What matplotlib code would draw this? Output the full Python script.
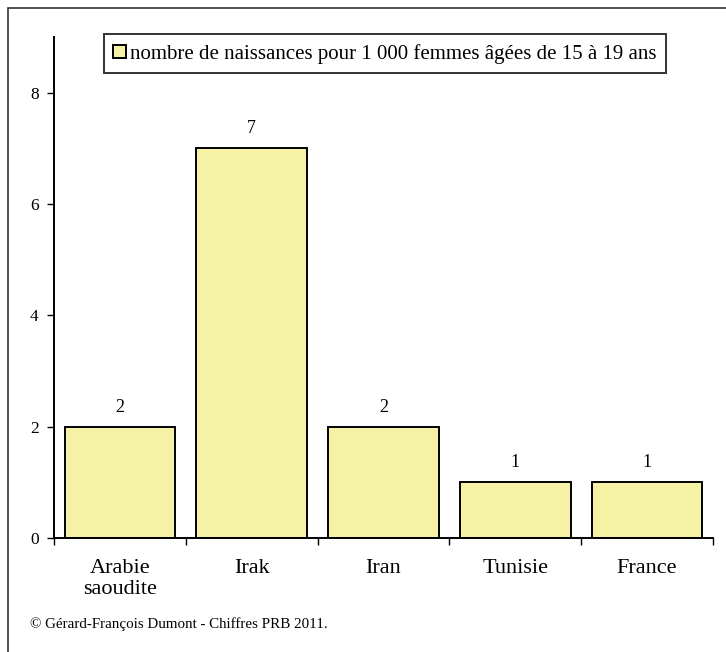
import matplotlib.pyplot as plt
from matplotlib.patches import Rectangle
import numpy as np

plt.rcParams["font.family"] = ["Liberation Serif", "DejaVu Serif"]

countries = ["Arabie\nsaoudite", "Irak", "Iran", "Tunisie", "France"]
births = [2, 7, 2, 1, 1]
y_ticks = [0, 2, 4, 6, 8]
series_label = "nombre de naissances pour 1 000 femmes âgées de 15 à 19 ans"
source = "© Gérard-François Dumont - Chiffres PRB 2011."

BAR_COLOR = "#F5F2A6"

fig = plt.figure(figsize=(7.26, 6.52), dpi=100)
fig.patches.append(Rectangle((8 / 726, -0.01), 1.0, 1 - 8 / 652 + 0.01,
                             transform=fig.transFigure, fill=False,
                             edgecolor="#333333", linewidth=1.2))

ax = fig.add_axes([54 / 726, 1 - 538 / 652, (713 - 54) / 726, (538 - 37) / 652])
x = np.arange(len(countries))
bars = ax.bar(x, births, width=0.84, color=BAR_COLOR, edgecolor="black",
              linewidth=1.4, label=series_label)

for xi, v in zip(x, births):
    ax.text(xi, v + 0.2, str(v), ha="center", va="bottom", fontsize=13)

ax.set_xlim(-0.5, len(countries) - 0.5)
ax.set_ylim(0, 9)
ax.set_yticks(y_ticks)
ax.tick_params(axis="y", labelsize=12.5, length=5, width=1, direction="out", pad=6)

ax.set_xticks(x)
ax.set_xticklabels(countries, fontsize=16, linespacing=1.15)
ax.set_xticks(np.arange(len(countries) + 1) - 0.5, minor=True)
ax.tick_params(axis="x", which="major", length=0, pad=15)
ax.tick_params(axis="x", which="minor", length=5, width=1, direction="out")

for side in ["top", "right"]:
    ax.spines[side].set_visible(False)
for side in ["left", "bottom"]:
    ax.spines[side].set_linewidth(1.4)

leg = ax.legend(loc="upper left", bbox_to_anchor=(50 / 659, 1.005), fontsize=15,
                frameon=True, fancybox=False, edgecolor="black",
                handlelength=0.6, handleheight=0.6, handletextpad=0.2,
                borderpad=0.45, borderaxespad=0)
leg.get_frame().set_linewidth(1.4)

fig.text(30 / 726, 1 - 624 / 652, source, fontsize=10.8, va="center", ha="left")

fig.savefig("out.png", dpi=100)
